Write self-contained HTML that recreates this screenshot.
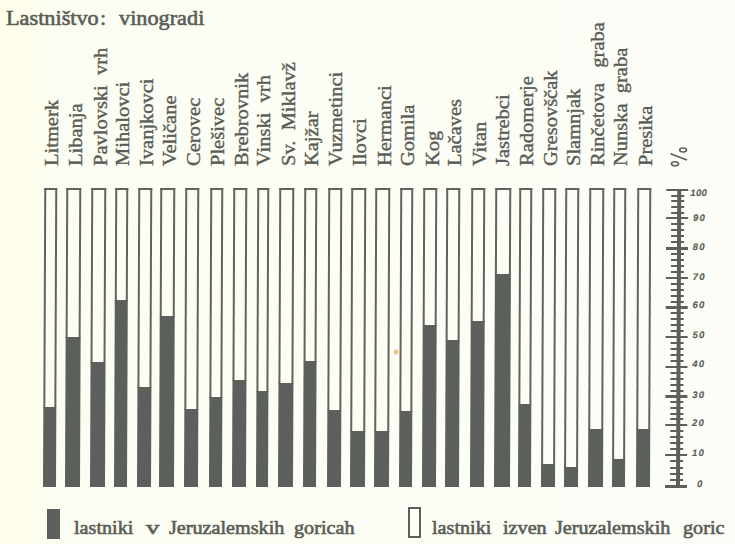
<!DOCTYPE html>
<html><head><meta charset="utf-8"><style>
html,body{margin:0;padding:0;}
body{width:735px;height:544px;background:linear-gradient(to right,#fefee9 0px,#fdfeec 35px,#fcfdf2 60px,#fcfdf4 400px,#fcfdf7 735px);position:relative;overflow:hidden;font-family:"Liberation Serif",serif;color:#5a5d57;-webkit-text-stroke:0.4px #5a5d57;}
.t{-webkit-text-stroke:0.6px #5a5d57;}
.a{position:absolute;}
.lb{position:absolute;white-space:nowrap;font-size:19.5px;line-height:19.5px;transform:rotate(-90deg) scaleX(1.05);transform-origin:0 0;}
.bo{position:absolute;box-sizing:border-box;border:2.2px solid #60645f;border-bottom:none;}
.fi{position:absolute;background:#5c605c;}
.num{position:absolute;font-family:"Liberation Sans",sans-serif;font-style:italic;font-weight:bold;font-size:9.5px;line-height:10px;white-space:nowrap;letter-spacing:1.2px;-webkit-text-stroke:0.15px #5a5d57}
</style></head><body>
<div class="a t" style="left:6px;top:2.9px;font-size:21px;line-height:30px;white-space:nowrap;transform:scaleX(1.06);transform-origin:0 0">Lastništvo</div>
<div class="a t" style="left:100.3px;top:2.9px;font-size:21px;line-height:30px;white-space:nowrap;transform:scaleX(1.06);transform-origin:0 0">:</div>
<div class="a t" style="left:119.2px;top:2.9px;font-size:21px;line-height:30px;white-space:nowrap;transform:scaleX(1.06);transform-origin:0 0">vinogradi</div>
<div class="lb" style="left:41.87px;top:166.2px">Litmerk</div>
<div class="lb" style="left:65.67px;top:166.2px">Libanja</div>
<div class="lb" style="left:90.87px;top:166.2px">Pavlovski&nbsp; vrh</div>
<div class="lb" style="left:112.97px;top:166.2px">Mihalovci</div>
<div class="lb" style="left:136.77px;top:166.2px">Ivanjkovci</div>
<div class="lb" style="left:159.57px;top:166.2px">Veličane</div>
<div class="lb" style="left:183.77px;top:166.2px">Cerovec</div>
<div class="lb" style="left:208.27px;top:166.2px">Plešivec</div>
<div class="lb" style="left:231.87px;top:166.2px">Brebrovnik</div>
<div class="lb" style="left:253.97px;top:166.2px">Vinski&nbsp; vrh</div>
<div class="lb" style="left:279.17px;top:166.2px">Sv.&nbsp; Miklavž</div>
<div class="lb" style="left:301.97px;top:166.2px">Kajžar</div>
<div class="lb" style="left:326.47px;top:166.2px">Vuzmetinci</div>
<div class="lb" style="left:350.37px;top:166.2px">Ilovci</div>
<div class="lb" style="left:374.87px;top:166.2px">Hermanci</div>
<div class="lb" style="left:397.97px;top:166.2px">Gomila</div>
<div class="lb" style="left:422.97px;top:166.2px">Kog</div>
<div class="lb" style="left:444.67px;top:166.2px">Lačaves</div>
<div class="lb" style="left:469.57px;top:166.2px">Vitan</div>
<div class="lb" style="left:492.57px;top:166.2px">Jastrebci</div>
<div class="lb" style="left:516.87px;top:166.2px">Radomerje</div>
<div class="lb" style="left:540.97px;top:166.2px">Gresovščak</div>
<div class="lb" style="left:564.17px;top:166.2px">Slamnjak</div>
<div class="lb" style="left:588.37px;top:166.2px">Rinčetova&nbsp;&nbsp; graba</div>
<div class="lb" style="left:611.17px;top:166.2px">Nunska&nbsp; graba</div>
<div class="lb" style="left:635.97px;top:166.2px">Presika</div>
<div class="a" style="left:0;top:0;width:735px;height:544px;transform:skewX(-0.24deg);transform-origin:0 250px"><div class="bo" style="left:43.50px;top:188.0px;width:13.60px;height:219.50px"></div><div class="fi" style="left:43.50px;top:406.5px;width:13.60px;height:80.00px"></div>
<div class="bo" style="left:66.30px;top:188.0px;width:14.60px;height:150.00px"></div><div class="fi" style="left:66.30px;top:337px;width:14.60px;height:149.50px"></div>
<div class="bo" style="left:91.10px;top:188.0px;width:15.00px;height:175.00px"></div><div class="fi" style="left:91.10px;top:362px;width:15.00px;height:124.50px"></div>
<div class="bo" style="left:114.60px;top:188.0px;width:13.60px;height:113.00px"></div><div class="fi" style="left:114.60px;top:300px;width:13.60px;height:186.50px"></div>
<div class="bo" style="left:138.10px;top:188.0px;width:13.90px;height:200.00px"></div><div class="fi" style="left:138.10px;top:387px;width:13.90px;height:99.50px"></div>
<div class="bo" style="left:160.20px;top:188.0px;width:14.60px;height:128.50px"></div><div class="fi" style="left:160.20px;top:315.5px;width:14.60px;height:171.00px"></div>
<div class="bo" style="left:185.10px;top:188.0px;width:13.90px;height:221.50px"></div><div class="fi" style="left:185.10px;top:408.5px;width:13.90px;height:78.00px"></div>
<div class="bo" style="left:209.60px;top:188.0px;width:13.90px;height:209.50px"></div><div class="fi" style="left:209.60px;top:396.5px;width:13.90px;height:90.00px"></div>
<div class="bo" style="left:232.80px;top:188.0px;width:14.30px;height:192.50px"></div><div class="fi" style="left:232.80px;top:379.5px;width:14.30px;height:107.00px"></div>
<div class="bo" style="left:257.30px;top:188.0px;width:11.90px;height:203.50px"></div><div class="fi" style="left:257.30px;top:390.5px;width:11.90px;height:96.00px"></div>
<div class="bo" style="left:278.80px;top:188.0px;width:15.60px;height:196.00px"></div><div class="fi" style="left:278.80px;top:383px;width:15.60px;height:103.50px"></div>
<div class="bo" style="left:303.70px;top:188.0px;width:13.50px;height:174.00px"></div><div class="fi" style="left:303.70px;top:361px;width:13.50px;height:125.50px"></div>
<div class="bo" style="left:327.50px;top:188.0px;width:14.20px;height:223.00px"></div><div class="fi" style="left:327.50px;top:410px;width:14.20px;height:76.50px"></div>
<div class="bo" style="left:351.00px;top:188.0px;width:14.60px;height:243.50px"></div><div class="fi" style="left:351.00px;top:430.5px;width:14.60px;height:56.00px"></div>
<div class="bo" style="left:375.20px;top:188.0px;width:14.90px;height:244.00px"></div><div class="fi" style="left:375.20px;top:431px;width:14.90px;height:55.50px"></div>
<div class="bo" style="left:400.30px;top:188.0px;width:12.90px;height:224.00px"></div><div class="fi" style="left:400.30px;top:411px;width:12.90px;height:75.50px"></div>
<div class="bo" style="left:422.80px;top:188.0px;width:13.90px;height:138.00px"></div><div class="fi" style="left:422.80px;top:325px;width:13.90px;height:161.50px"></div>
<div class="bo" style="left:445.60px;top:188.0px;width:14.30px;height:153.00px"></div><div class="fi" style="left:445.60px;top:340px;width:14.30px;height:146.50px"></div>
<div class="bo" style="left:470.50px;top:188.0px;width:14.30px;height:133.50px"></div><div class="fi" style="left:470.50px;top:320.5px;width:14.30px;height:166.00px"></div>
<div class="bo" style="left:495.00px;top:188.0px;width:15.80px;height:87.00px"></div><div class="fi" style="left:495.00px;top:274px;width:15.80px;height:212.50px"></div>
<div class="bo" style="left:518.90px;top:188.0px;width:13.20px;height:217.00px"></div><div class="fi" style="left:518.90px;top:404px;width:13.20px;height:82.50px"></div>
<div class="bo" style="left:541.70px;top:188.0px;width:14.50px;height:277.00px"></div><div class="fi" style="left:541.70px;top:464px;width:14.50px;height:22.50px"></div>
<div class="bo" style="left:565.20px;top:188.0px;width:14.20px;height:280.00px"></div><div class="fi" style="left:565.20px;top:467px;width:14.20px;height:19.50px"></div>
<div class="bo" style="left:588.60px;top:188.0px;width:15.00px;height:242.00px"></div><div class="fi" style="left:588.60px;top:429px;width:15.00px;height:57.50px"></div>
<div class="bo" style="left:612.50px;top:188.0px;width:13.90px;height:272.00px"></div><div class="fi" style="left:612.50px;top:459px;width:13.90px;height:27.50px"></div>
<div class="bo" style="left:637.00px;top:188.0px;width:14.20px;height:242.00px"></div><div class="fi" style="left:637.00px;top:429px;width:14.20px;height:57.50px"></div>
<div class="fi" style="left:677.0px;top:189px;width:3.5px;height:299px"></div>
<div class="fi" style="left:665.5px;top:485.05px;width:22.5px;height:2.5px"></div><div class="fi" style="left:670.5px;top:479.04px;width:13.5px;height:2px"></div><div class="fi" style="left:670.5px;top:472.78px;width:13.5px;height:2px"></div><div class="fi" style="left:670.5px;top:466.52px;width:13.5px;height:2px"></div><div class="fi" style="left:670.5px;top:460.26px;width:13.5px;height:2px"></div>
<div class="fi" style="left:665.5px;top:453.75px;width:22.5px;height:2.5px"></div><div class="fi" style="left:670.5px;top:448.00px;width:13.5px;height:2px"></div><div class="fi" style="left:670.5px;top:442.00px;width:13.5px;height:2px"></div><div class="fi" style="left:670.5px;top:436.00px;width:13.5px;height:2px"></div><div class="fi" style="left:670.5px;top:430.00px;width:13.5px;height:2px"></div>
<div class="fi" style="left:665.5px;top:423.75px;width:22.5px;height:2.5px"></div><div class="fi" style="left:670.5px;top:418.30px;width:13.5px;height:2px"></div><div class="fi" style="left:670.5px;top:412.60px;width:13.5px;height:2px"></div><div class="fi" style="left:670.5px;top:406.90px;width:13.5px;height:2px"></div><div class="fi" style="left:670.5px;top:401.20px;width:13.5px;height:2px"></div>
<div class="fi" style="left:665.5px;top:395.25px;width:22.5px;height:2.5px"></div><div class="fi" style="left:670.5px;top:389.58px;width:13.5px;height:2px"></div><div class="fi" style="left:670.5px;top:383.66px;width:13.5px;height:2px"></div><div class="fi" style="left:670.5px;top:377.74px;width:13.5px;height:2px"></div><div class="fi" style="left:670.5px;top:371.82px;width:13.5px;height:2px"></div>
<div class="fi" style="left:665.5px;top:365.65px;width:22.5px;height:2.5px"></div><div class="fi" style="left:670.5px;top:359.94px;width:13.5px;height:2px"></div><div class="fi" style="left:670.5px;top:353.98px;width:13.5px;height:2px"></div><div class="fi" style="left:670.5px;top:348.02px;width:13.5px;height:2px"></div><div class="fi" style="left:670.5px;top:342.06px;width:13.5px;height:2px"></div>
<div class="fi" style="left:665.5px;top:335.85px;width:22.5px;height:2.5px"></div><div class="fi" style="left:670.5px;top:330.16px;width:13.5px;height:2px"></div><div class="fi" style="left:670.5px;top:324.22px;width:13.5px;height:2px"></div><div class="fi" style="left:670.5px;top:318.28px;width:13.5px;height:2px"></div><div class="fi" style="left:670.5px;top:312.34px;width:13.5px;height:2px"></div>
<div class="fi" style="left:665.5px;top:306.15px;width:22.5px;height:2.5px"></div><div class="fi" style="left:670.5px;top:300.50px;width:13.5px;height:2px"></div><div class="fi" style="left:670.5px;top:294.60px;width:13.5px;height:2px"></div><div class="fi" style="left:670.5px;top:288.70px;width:13.5px;height:2px"></div><div class="fi" style="left:670.5px;top:282.80px;width:13.5px;height:2px"></div>
<div class="fi" style="left:665.5px;top:276.65px;width:22.5px;height:2.5px"></div><div class="fi" style="left:670.5px;top:271.02px;width:13.5px;height:2px"></div><div class="fi" style="left:670.5px;top:265.14px;width:13.5px;height:2px"></div><div class="fi" style="left:670.5px;top:259.26px;width:13.5px;height:2px"></div><div class="fi" style="left:670.5px;top:253.38px;width:13.5px;height:2px"></div>
<div class="fi" style="left:665.5px;top:247.25px;width:22.5px;height:2.5px"></div><div class="fi" style="left:670.5px;top:241.44px;width:13.5px;height:2px"></div><div class="fi" style="left:670.5px;top:235.38px;width:13.5px;height:2px"></div><div class="fi" style="left:670.5px;top:229.32px;width:13.5px;height:2px"></div><div class="fi" style="left:670.5px;top:223.26px;width:13.5px;height:2px"></div>
<div class="fi" style="left:665.5px;top:216.95px;width:22.5px;height:2.5px"></div><div class="fi" style="left:670.5px;top:211.56px;width:13.5px;height:2px"></div><div class="fi" style="left:670.5px;top:205.92px;width:13.5px;height:2px"></div><div class="fi" style="left:670.5px;top:200.28px;width:13.5px;height:2px"></div><div class="fi" style="left:670.5px;top:194.64px;width:13.5px;height:2px"></div>
<div class="fi" style="left:665.5px;top:188.75px;width:22.5px;height:2.5px"></div>
<div class="num" style="left:698.0px;top:478.80px;">0</div>
<div class="num" style="left:692.8px;top:448.10px;">10</div>
<div class="num" style="left:692.8px;top:418.40px;">20</div>
<div class="num" style="left:692.8px;top:390.30px;">30</div>
<div class="num" style="left:692.8px;top:359.30px;">40</div>
<div class="num" style="left:692.8px;top:330.00px;">50</div>
<div class="num" style="left:692.8px;top:300.30px;">60</div>
<div class="num" style="left:692.8px;top:271.60px;">70</div>
<div class="num" style="left:692.8px;top:241.70px;">80</div>
<div class="num" style="left:692.8px;top:213.20px;">90</div>
<div class="num" style="left:690.0px;top:187.90px;letter-spacing:0.4px;">100</div>
</div><svg class="a" style="left:0;top:0" width="735" height="544"><g fill="none" stroke="#5a5d57" stroke-width="1.6"><ellipse cx="683.1" cy="150" rx="3.4" ry="2"/><ellipse cx="675" cy="163.7" rx="3.5" ry="2"/><line x1="670.5" y1="153.8" x2="687" y2="160"/></g></svg>
<div class="a" style="left:393px;top:349px;width:6px;height:6px;border-radius:50%;background:radial-gradient(circle,rgba(210,160,70,0.9) 0,rgba(230,190,110,0.5) 55%,rgba(250,240,200,0) 100%)"></div>
<div class="fi" style="left:47px;top:509px;width:13px;height:30px"></div>
<div class="a" style="left:407.7px;top:506.6px;width:13px;height:31.4px;box-sizing:border-box;border:2px solid #5c605c"></div>
<div class="a t" style="left:74.2px;top:516.1px;font-size:18.5px;line-height:24px;white-space:nowrap;transform:scaleX(1.09);transform-origin:0 0">lastniki</div>
<div class="a t" style="left:146.4px;top:516.1px;font-size:18.5px;line-height:24px;white-space:nowrap;transform:scaleX(1.45);transform-origin:0 0">v</div>
<div class="a t" style="left:168.5px;top:516.1px;font-size:18.5px;line-height:24px;white-space:nowrap;transform:scaleX(1.09);transform-origin:0 0">Jeruzalemskih</div>
<div class="a t" style="left:294.3px;top:516.1px;font-size:18.5px;line-height:24px;white-space:nowrap;transform:scaleX(1.09);transform-origin:0 0">goricah</div>
<div class="a t" style="left:432.2px;top:516.1px;font-size:18.5px;line-height:24px;white-space:nowrap;transform:scaleX(1.09);transform-origin:0 0">lastniki</div>
<div class="a t" style="left:502.8px;top:516.1px;font-size:18.5px;line-height:24px;white-space:nowrap;transform:scaleX(1.09);transform-origin:0 0">izven</div>
<div class="a t" style="left:555.4px;top:516.1px;font-size:18.5px;line-height:24px;white-space:nowrap;transform:scaleX(1.09);transform-origin:0 0">Jeruzalemskih</div>
<div class="a t" style="left:682.8px;top:516.1px;font-size:18.5px;line-height:24px;white-space:nowrap;transform:scaleX(1.09);transform-origin:0 0">goric</div>
</body></html>
